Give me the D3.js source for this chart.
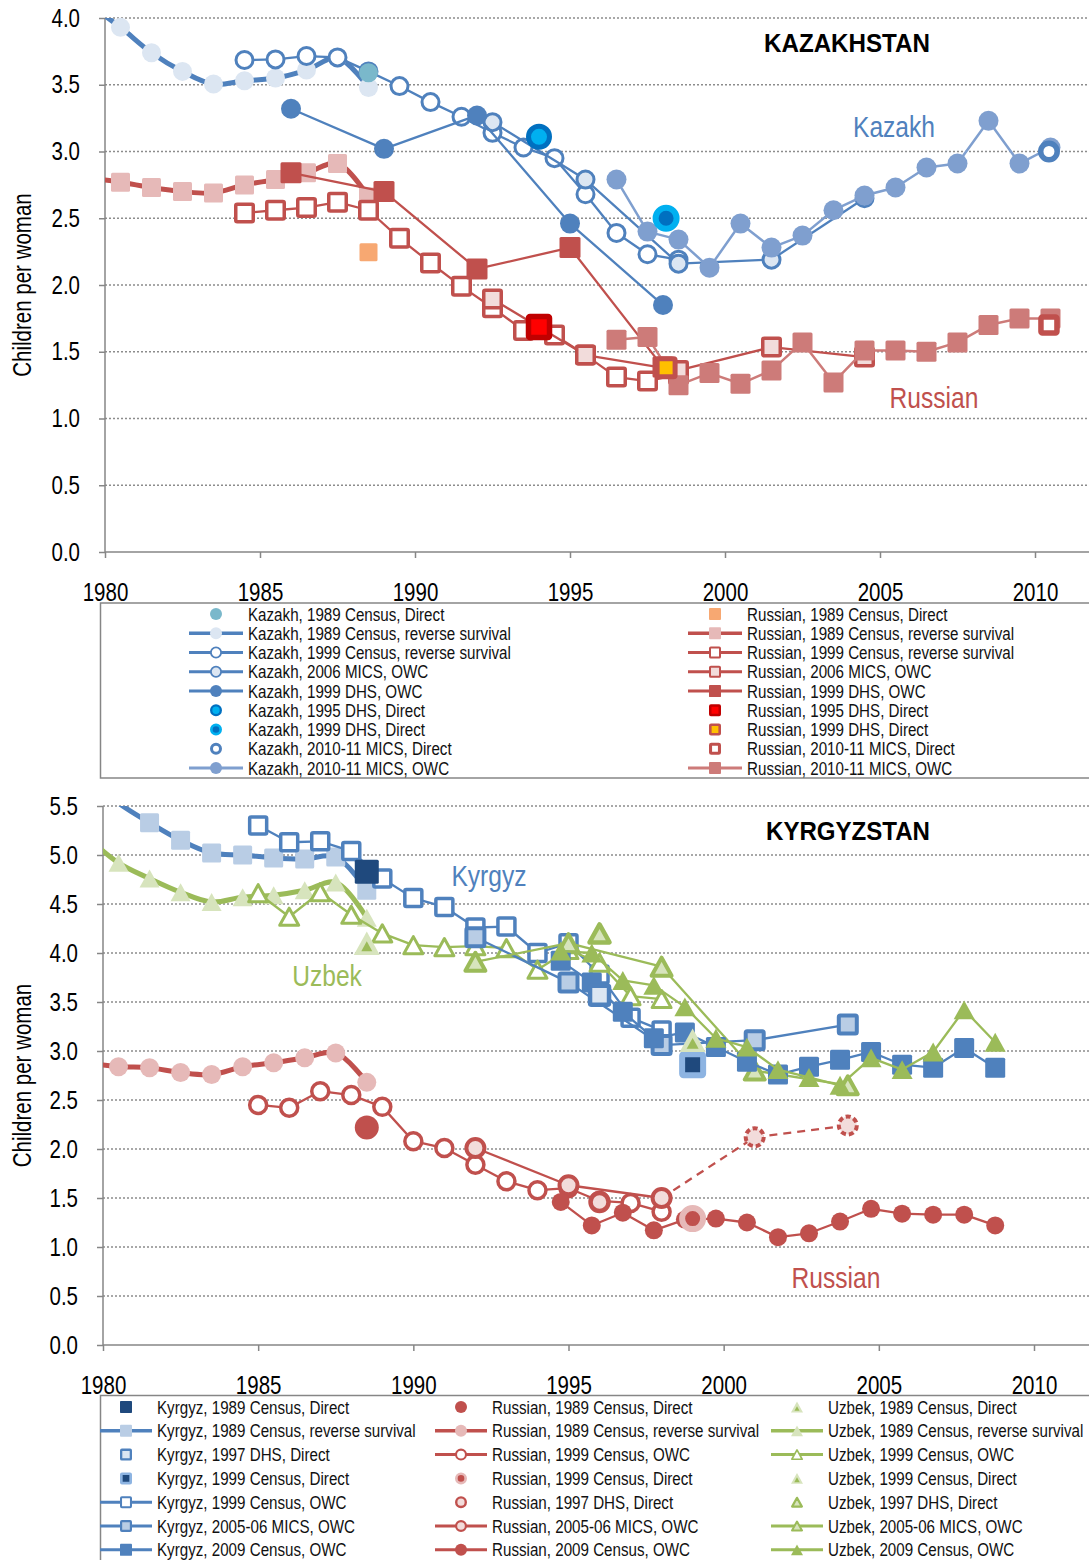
<!DOCTYPE html>
<html><head><meta charset="utf-8">
<script src="https://cdn.jsdelivr.net/npm/d3@7"></script>
<style>
body{margin:0;background:#fff;}
svg{display:block;}
text{font-family:"Liberation Sans",Arial,sans-serif;}
</style></head><body>
<svg id="c" width="1089" height="1560"></svg>
<script>
// ===== Kazakhstan: Kazakh women (year, children per woman) =====
const kzKazCensus89Direct = [[1988.5,3.59]];
const kzKazCensus89Rs = [[1979.5,4.10],[1980.5,3.93],[1981.5,3.74],[1982.5,3.60],[1983.5,3.505],[1984.5,3.53],[1985.5,3.55],[1986.5,3.61],[1987.5,3.70],[1988.5,3.48]];
const kzKazCensus99Rs = [[1984.5,3.685],[1985.5,3.69],[1986.5,3.715],[1987.5,3.705],[1988.5,3.60],[1989.5,3.49],[1990.5,3.37],[1991.5,3.26],[1992.5,3.14],[1993.5,3.03],[1994.5,2.95],[1995.5,2.68],[1996.5,2.39],[1997.5,2.23],[1998.5,2.19]];
const kzKazMics06Owc = [[1992.5,3.22],[1995.5,2.79],[1998.5,2.16],[2001.5,2.19],[2004.5,2.65]];
const kzKazDhs99Owc = [[1986,3.32],[1989,3.02],[1992,3.27],[1995,2.46],[1998,1.85]];
const kzKazDhs95Direct = [[1994,3.11]];
const kzKazDhs99Direct = [[1998.1,2.50]];
const kzKazMics10Direct = [[2010.45,3.00]];
const kzKazMics10Owc = [[1996.5,2.79],[1997.5,2.40],[1998.5,2.34],[1999.5,2.13],[2000.5,2.46],[2001.5,2.28],[2002.5,2.37],[2003.5,2.56],[2004.5,2.67],[2005.5,2.73],[2006.5,2.88],[2007.5,2.91],[2008.5,3.23],[2009.5,2.91],[2010.5,3.03]];

// ===== Kazakhstan: Russian women =====
const kzRusCensus89Direct = [[1988.5,2.245]];
const kzRusCensus89Rs = [[1979.5,2.80],[1980.5,2.77],[1981.5,2.73],[1982.5,2.70],[1983.5,2.69],[1984.5,2.75],[1985.5,2.79],[1986.5,2.84],[1987.5,2.91],[1988.5,2.66]];
const kzRusCensus99Rs = [[1984.5,2.54],[1985.5,2.56],[1986.5,2.58],[1987.5,2.62],[1988.5,2.56],[1989.5,2.35],[1990.5,2.165],[1991.5,1.99],[1992.5,1.83],[1993.5,1.66],[1994.5,1.625],[1995.5,1.475],[1996.5,1.31],[1997.5,1.28],[1998.5,1.33]];
const kzRusMics06Owc = [[1992.5,1.895],[1995.5,1.475],[1998.5,1.36],[2001.5,1.535],[2004.5,1.46]];
const kzRusDhs99Owc = [[1986,2.84],[1989,2.70],[1992,2.12],[1995,2.28],[1998,1.385]];
const kzRusDhs95Direct = [[1994,1.685]];
const kzRusDhs99Direct = [[1998.1,1.38]];
const kzRusMics10Direct = [[2010.45,1.70]];
const kzRusMics10Owc = [[1996.5,1.59],[1997.5,1.61],[1998.5,1.25],[1999.5,1.34],[2000.5,1.26],[2001.5,1.36],[2002.5,1.57],[2003.5,1.27],[2004.5,1.51],[2005.5,1.51],[2006.5,1.50],[2007.5,1.57],[2008.5,1.70],[2009.5,1.75],[2010.5,1.75]];

// ===== Kyrgyzstan: Kyrgyz women =====
const kgKyrCensus89Direct = [[1988.5,4.83]];
const kgKyrCensus89Rs = [[1979.5,5.80],[1980.5,5.53],[1981.5,5.33],[1982.5,5.15],[1983.5,5.02],[1984.5,5.00],[1985.5,4.97],[1986.5,4.96],[1987.5,4.98],[1988.5,4.64]];
const kgKyrDhs97Direct = [[1996,3.57]];
const kgKyrCensus99Direct = [[1999,2.86]];
const kgKyrCensus99Owc = [[1985,5.30],[1986,5.13],[1987,5.14],[1988,5.04],[1989,4.76],[1990,4.56],[1991,4.47],[1992,4.26],[1993,4.27],[1994,4.00],[1995,4.10],[1996,3.78],[1997,3.34],[1998,3.21]];
const kgKyrMics05Owc = [[1992,4.16],[1995,3.70],[1998,3.06],[2001,3.11],[2004,3.27]];
const kgKyrCensus09Owc = [[1994.75,3.92],[1995.75,3.70],[1996.75,3.40],[1997.75,3.13],[1998.75,3.19],[1999.75,3.04],[2000.75,2.89],[2001.75,2.76],[2002.75,2.84],[2003.75,2.91],[2004.75,2.99],[2005.75,2.86],[2006.75,2.83],[2007.75,3.03],[2008.75,2.83]];

// ===== Kyrgyzstan: Russian women =====
const kgRusCensus89Direct = [[1988.5,2.22]];
const kgRusCensus89Rs = [[1979.5,2.88],[1980.5,2.84],[1981.5,2.83],[1982.5,2.78],[1983.5,2.76],[1984.5,2.84],[1985.5,2.88],[1986.5,2.93],[1987.5,2.98],[1988.5,2.68]];
const kgRusCensus99Owc = [[1985,2.45],[1986,2.42],[1987,2.59],[1988,2.55],[1989,2.43],[1990,2.08],[1991,2.01],[1992,1.84],[1993,1.67],[1994,1.58],[1995,1.60],[1996,1.47],[1997,1.45],[1998,1.36]];
const kgRusCensus99Direct = [[1999,1.29]];
const kgRusDhs97Direct = [[1996,1.46]];
const kgRusMics05Owc = [[1992,2.01],[1995,1.63],[1998,1.50],[2001,2.12],[2004,2.24]];
const kgRusCensus09Owc = [[1994.75,1.46],[1995.75,1.22],[1996.75,1.35],[1997.75,1.17],[1998.75,1.28],[1999.75,1.29],[2000.75,1.25],[2001.75,1.10],[2002.75,1.14],[2003.75,1.26],[2004.75,1.39],[2005.75,1.34],[2006.75,1.33],[2007.75,1.33],[2008.75,1.22]];

// ===== Kyrgyzstan: Uzbek women =====
const kgUzbCensus89Direct = [[1988.5,4.10]];
const kgUzbCensus89Rs = [[1979.5,5.18],[1980.5,4.92],[1981.5,4.76],[1982.5,4.62],[1983.5,4.52],[1984.5,4.57],[1985.5,4.59],[1986.5,4.64],[1987.5,4.72],[1988.5,4.36]];
const kgUzbCensus99Owc = [[1985,4.61],[1986,4.37],[1987,4.62],[1988,4.39],[1989,4.20],[1990,4.08],[1991,4.06],[1992,4.07],[1993,4.05],[1994,3.83],[1995,4.03],[1996,3.90],[1997,3.56],[1998,3.53]];
const kgUzbCensus99Direct = [[1999,3.11]];
const kgUzbDhs97Direct = [[1996,4.20]];
const kgUzbMics05Owc = [[1992,3.91],[1995,4.10],[1998,3.86],[2001,2.80],[2004,2.65]];
const kgUzbCensus09Owc = [[1994.75,4.02],[1995.75,4.00],[1996.75,3.72],[1997.75,3.67],[1998.75,3.45],[1999.75,3.13],[2000.75,3.04],[2001.75,2.81],[2002.75,2.73],[2003.75,2.65],[2004.75,2.93],[2005.75,2.81],[2006.75,2.99],[2007.75,3.42],[2008.75,3.09]];

// axis ticks
const yearTicks = [1980,1985,1990,1995,2000,2005,2010];

// ---------- palette ----------
const BLUE='#4f81bd', BLUE_L='#dce6f2', BLUE_M='#b9cde5', BLUE_OWC='#7f9fcf', NAVY='#1f497d';
const RED='#c0504d', RED_L='#e6b9b8', RED_XL='#f2dcdb', RED_OWC='#cd7b79';
const GREEN='#9bbb59', GREEN_L='#d7e4bd';
const NARROW = 0.82;   // horizontal squeeze giving a condensed face

const svg = d3.select('#c');

// place a text at (x,y) with condensed glyphs
function narrowAt(t, x, y, extra=''){
  t.attr('x',0).attr('y',0).attr('transform',`translate(${x},${y}) ${extra} scale(${NARROW},1)`);
  return t;
}

function triPath(w){ const h=w*0.9; return `M0,${-h/2}L${w/2},${h/2}L${-w/2},${h/2}Z`; }

function marker(g, m, x, y, k=1){
  const s=m.size*k, sw=(m.sw||0)*k;
  let el;
  if(m.shape==='circle') el=g.append('circle').attr('cx',x).attr('cy',y).attr('r',s/2);
  else if(m.shape==='square') el=g.append('rect').attr('x',x-s/2).attr('y',y-s/2).attr('width',s).attr('height',s).attr('rx',1.5*k);
  else el=g.append('path').attr('transform',`translate(${x},${y})`).attr('d',triPath(s));
  el.attr('fill',m.fill).attr('stroke',m.stroke||'none').attr('stroke-width',sw).attr('stroke-linejoin','round');
  if(m.dash) el.attr('stroke-dasharray',m.dash);
  if(m.inner){
    const dy = m.shape==='triangle' ? s*0.12 : 0;
    marker(g,{shape:m.shape,size:m.inner.size,fill:m.inner.fill},x,y+dy,k);
  }
}

const thin = c => ({color:c,width:2.3});
const thick = c => ({color:c,width:5,smooth:true});

// ---------- series: Kazakhstan ----------
const topSeries = [
  {data:kzKazCensus89Rs, line:thick(BLUE), mk:{shape:'circle',size:19,fill:BLUE_L}, lg:[0,1], label:'Kazakh, 1989 Census, reverse survival'},
  {data:kzKazCensus99Rs, line:thin(BLUE), mk:{shape:'circle',size:17,fill:'#fff',stroke:BLUE,sw:3}, lg:[0,2], label:'Kazakh, 1999 Census, reverse survival'},
  {data:kzKazMics06Owc, line:thin(BLUE), mk:{shape:'circle',size:17,fill:BLUE_L,stroke:BLUE,sw:3}, lg:[0,3], label:'Kazakh, 2006 MICS, OWC'},
  {data:kzKazDhs99Owc, line:thin(BLUE), mk:{shape:'circle',size:20,fill:BLUE}, lg:[0,4], label:'Kazakh, 1999 DHS, OWC'},
  {data:kzKazMics10Owc, line:{color:BLUE_OWC,width:2.5}, mk:{shape:'circle',size:20,fill:BLUE_OWC}, lg:[0,8], label:'Kazakh, 2010-11 MICS, OWC'},
  {data:kzRusCensus89Rs, line:thick(RED), mk:{shape:'square',size:19,fill:RED_L}, lg:[1,1], label:'Russian, 1989 Census, reverse survival'},
  {data:kzRusCensus99Rs, line:thin(RED), mk:{shape:'square',size:17.5,fill:'#fff',stroke:RED,sw:3.5}, lg:[1,2], label:'Russian, 1999 Census, reverse survival'},
  {data:kzRusMics06Owc, line:thin(RED), mk:{shape:'square',size:17.5,fill:RED_XL,stroke:RED,sw:3.5}, lg:[1,3], label:'Russian, 2006 MICS, OWC'},
  {data:kzRusDhs99Owc, line:thin(RED), mk:{shape:'square',size:21,fill:RED}, lg:[1,4], label:'Russian, 1999 DHS, OWC'},
  {data:kzRusMics10Owc, line:{color:RED_OWC,width:2.5}, mk:{shape:'square',size:20,fill:RED_OWC}, lg:[1,8], label:'Russian, 2010-11 MICS, OWC'},
  {data:kzKazCensus89Direct, mk:{shape:'circle',size:19,fill:'#7ab8cb'}, lg:[0,0], label:'Kazakh, 1989 Census, Direct'},
  {data:kzRusCensus89Direct, mk:{shape:'square',size:18,fill:'#f7a872'}, lg:[1,0], label:'Russian, 1989 Census, Direct'},
  {data:kzKazDhs95Direct, mk:{shape:'circle',size:21,fill:'#00b0f0',stroke:'#0070c0',sw:5}, lg:[0,5], label:'Kazakh, 1995 DHS, Direct'},
  {data:kzKazDhs99Direct, mk:{shape:'circle',size:21,fill:'#0070c0',stroke:'#00b0f0',sw:6}, lg:[0,6], label:'Kazakh, 1999 DHS, Direct'},
  {data:kzRusDhs95Direct, mk:{shape:'square',size:21,fill:'#ff0000',stroke:'#c00000',sw:5.5}, lg:[1,5], label:'Russian, 1995 DHS, Direct'},
  {data:kzRusDhs99Direct, mk:{shape:'square',size:18,fill:'#ffc000',stroke:RED,sw:5}, lg:[1,6], label:'Russian, 1999 DHS, Direct'},
  {data:kzKazMics10Direct, mk:{shape:'circle',size:16.5,fill:'#fff',stroke:BLUE,sw:5.5}, lg:[0,7], label:'Kazakh, 2010-11 MICS, Direct'},
  {data:kzRusMics10Direct, mk:{shape:'square',size:16,fill:'#fff',stroke:RED,sw:5.5}, lg:[1,7], label:'Russian, 2010-11 MICS, Direct'}
];

// ---------- series: Kyrgyzstan ----------
const botSeries = [
  {data:kgKyrCensus89Rs, line:thick(BLUE), mk:{shape:'square',size:19,fill:BLUE_M}, lg:[0,1], label:'Kyrgyz, 1989 Census, reverse survival'},
  {data:kgUzbCensus89Rs, line:thick(GREEN), mk:{shape:'triangle',size:20,fill:GREEN_L}, lg:[2,1], label:'Uzbek, 1989 Census, reverse survival'},
  {data:kgRusCensus89Rs, line:thick(RED), mk:{shape:'circle',size:19,fill:RED_L}, lg:[1,1], label:'Russian, 1989 Census, reverse survival'},
  {data:kgKyrCensus99Owc, line:thin(BLUE), mk:{shape:'square',size:17,fill:'#fff',stroke:BLUE,sw:3.5}, lg:[0,4], label:'Kyrgyz, 1999 Census, OWC'},
  {data:kgRusCensus99Owc, line:thin(RED), mk:{shape:'circle',size:17,fill:'#fff',stroke:RED,sw:3.5}, lg:[1,2], label:'Russian, 1999 Census, OWC'},
  {data:kgUzbCensus99Owc, line:thin(GREEN), mk:{shape:'triangle',size:19,fill:'#fff',stroke:GREEN,sw:3}, lg:[2,2], label:'Uzbek, 1999 Census, OWC'},
  {data:kgKyrMics05Owc, line:thin(BLUE), mk:{shape:'square',size:18,fill:BLUE_M,stroke:BLUE,sw:4}, lg:[0,5], label:'Kyrgyz, 2005-06 MICS, OWC'},
  {data:kgRusMics05Owc, line:thin(RED), dashFrom:3, mk:{shape:'circle',size:18,fill:RED_XL,stroke:RED,sw:4}, lg:[1,5], label:'Russian, 2005-06 MICS, OWC'},
  {data:kgUzbMics05Owc, line:thin(GREEN), mk:{shape:'triangle',size:20,fill:GREEN_L,stroke:GREEN,sw:4}, lg:[2,5], label:'Uzbek, 2005-06 MICS, OWC'},
  {data:kgKyrCensus09Owc, line:thin(BLUE), mk:{shape:'square',size:20,fill:BLUE}, lg:[0,6], label:'Kyrgyz, 2009 Census, OWC'},
  {data:kgRusCensus09Owc, line:thin(RED), mk:{shape:'circle',size:18,fill:RED}, lg:[1,6], label:'Russian, 2009 Census, OWC'},
  {data:kgUzbCensus09Owc, line:thin(GREEN), mk:{shape:'triangle',size:21,fill:GREEN}, lg:[2,6], label:'Uzbek, 2009 Census, OWC'},
  {data:kgKyrCensus89Direct, mk:{shape:'square',size:24,fill:NAVY}, lg:[0,0], label:'Kyrgyz, 1989 Census, Direct'},
  {data:kgRusCensus89Direct, mk:{shape:'circle',size:24,fill:RED}, lg:[1,0], label:'Russian, 1989 Census, Direct'},
  {data:kgUzbCensus89Direct, mk:{shape:'triangle',size:26,fill:GREEN_L,inner:{size:11,fill:GREEN}}, lg:[2,0], label:'Uzbek, 1989 Census, Direct'},
  {data:kgKyrDhs97Direct, mk:{shape:'square',size:19,fill:BLUE_L,stroke:BLUE,sw:4.5}, lg:[0,2], label:'Kyrgyz, 1997 DHS, Direct'},
  {data:kgRusDhs97Direct, mk:{shape:'circle',size:18,fill:RED_XL,stroke:RED,sw:4.5}, lg:[1,4], label:'Russian, 1997 DHS, Direct'},
  {data:kgUzbDhs97Direct, mk:{shape:'triangle',size:20,fill:GREEN_L,stroke:GREEN,sw:4.5}, lg:[2,4], label:'Uzbek, 1997 DHS, Direct'},
  {data:kgKyrCensus99Direct, mk:{shape:'square',size:21,fill:NAVY,stroke:'#8db4e2',sw:6}, lg:[0,3], label:'Kyrgyz, 1999 Census, Direct'},
  {data:kgRusCensus99Direct, mk:{shape:'circle',size:21,fill:RED,stroke:RED_L,sw:6}, lg:[1,3], label:'Russian, 1999 Census, Direct'},
  {data:kgUzbCensus99Direct, mk:{shape:'triangle',size:26,fill:GREEN_L,inner:{size:12,fill:GREEN}}, lg:[2,3], label:'Uzbek, 1999 Census, Direct'}
];

function chart(o){
  const g = svg.append('g');
  const x = d3.scaleLinear().domain([1980,2010]).range(o.xr);
  const y = d3.scaleLinear().domain([0,o.ymax]).range(o.yr);
  const X0=o.xr[0], XE=1089, Y0=o.yr[0], Y1=o.yr[1];
  const clipId = o.id+'clip';
  svg.append('clipPath').attr('id',clipId).append('rect')
    .attr('x',X0).attr('y',Y1).attr('width',XE-X0).attr('height',Y0-Y1);

  // dotted gridlines
  g.append('g').selectAll('line').data(d3.range(0.5,o.ymax+0.01,0.5)).join('line')
    .attr('x1',X0).attr('x2',XE).attr('y1',d=>y(d)).attr('y2',d=>y(d))
    .attr('stroke','#8c8c8c').attr('stroke-width',1.5).attr('stroke-dasharray','2,2');

  // axes
  const ya = g.append('g').attr('transform',`translate(${X0},0)`)
    .call(d3.axisLeft(y).tickValues(d3.range(0,o.ymax+0.01,0.5)).tickFormat(d3.format('.1f')).tickSize(6).tickPadding(19).tickSizeOuter(0));
  const xa = g.append('g').attr('transform',`translate(0,${Y0})`)
    .call(d3.axisBottom(x).tickValues(yearTicks).tickFormat(d3.format('d')).tickSize(6).tickPadding(25).tickSizeOuter(0));
  [ya,xa].forEach(a=>{
    a.select('.domain').remove();
    a.selectAll('line').attr('stroke','#868686').attr('stroke-width',1.5);
    a.selectAll('text').attr('font-size',25).attr('fill','#000').style('font-family','"Liberation Sans",Arial,sans-serif')
      .each(function(){
        const t=d3.select(this);
        narrowAt(t, +t.attr('x')||0, +t.attr('y')||0);
      });
  });
  g.append('line').attr('x1',X0).attr('x2',X0).attr('y1',Y1).attr('y2',Y0).attr('stroke','#868686').attr('stroke-width',1.5);
  g.append('line').attr('x1',X0).attr('x2',XE).attr('y1',Y0).attr('y2',Y0).attr('stroke','#868686').attr('stroke-width',1.5);

  // y title
  narrowAt(g.append('text').attr('text-anchor','middle').attr('dy','0.35em').attr('font-size',25).attr('fill','#000').text('Children per woman'),
    o.titleX, (Y0+Y1)/2, 'rotate(-90)');

  // series
  o.series.forEach(s=>{
    const pts=s.data;
    if(s.line){
      const line=d3.line().x(d=>x(d[0])).y(d=>y(d[1]))
        .curve(s.line.smooth?d3.curveCatmullRom.alpha(0.5):d3.curveLinear);
      const parts = s.dashFrom ? [[pts.slice(0,s.dashFrom),null],[pts.slice(s.dashFrom-1),'8,6']] : [[pts,null]];
      parts.forEach(([p,dash])=>{
        g.append('path').attr('d',line(p)).attr('fill','none')
          .attr('stroke',s.line.color).attr('stroke-width',s.line.width)
          .attr('stroke-linejoin','round').attr('stroke-dasharray',dash)
          .attr('clip-path',`url(#${clipId})`);
      });
    }
    pts.forEach((d,i)=>{
      if(d[0]<1980 || d[1]>o.ymax) return;
      const m=(s.dashFrom && i>=s.dashFrom)?Object.assign({},s.mk,{dash:'5,3'}):s.mk;
      marker(g,m,x(d[0]),y(d[1]));
    });
  });

  // annotations
  o.notes.forEach(n=>{
    const t=g.append('text').attr('text-anchor','middle')
      .attr('font-size',n.size).attr('fill',n.color).attr('font-weight',n.bold?'bold':null).text(n.text);
    if(n.len) t.attr('x',n.x).attr('y',n.y).attr('textLength',n.len).attr('lengthAdjust','spacingAndGlyphs');
    else narrowAt(t, n.x, n.y);
  });

  // legend
  const L=o.legend;
  svg.append('rect').attr('x',100.5).attr('y',L.boxY).attr('width',995).attr('height',L.boxH)
    .attr('fill','none').attr('stroke','#868686').attr('stroke-width',1.5);
  o.series.forEach(s=>{
    const cx=L.cols[s.lg[0]], cy=L.row0+s.lg[1]*L.dy;
    const lg=svg.append('g');
    if(s.line) lg.append('line').attr('x1',cx-L.half).attr('x2',cx+L.half).attr('y1',cy).attr('y2',cy)
      .attr('stroke',s.line.color).attr('stroke-width',s.line.smooth?3.5:3);
    const k = 12/(s.mk.size+(s.mk.sw||0));
    marker(lg,s.mk,cx,cy,k);
    narrowAt(lg.append('text').attr('dy','0.36em').attr('font-size',18.5).attr('fill','#111').text(s.label),
      cx+L.tx, cy);
  });
}

chart({
  id:'kz', xr:[105,1035], yr:[552,18], ymax:4, titleX:22, series:topSeries,
  notes:[
    {text:'KAZAKHSTAN',x:847,y:52,size:26,color:'#000',bold:true,len:166},
    {text:'Kazakh',x:894,y:137,size:30,color:BLUE},
    {text:'Russian',x:934,y:408,size:30,color:RED}
  ],
  legend:{boxY:603,boxH:175,cols:[216,715],row0:614,dy:19.25,half:27,tx:32}
});

chart({
  id:'kg', xr:[103,1034], yr:[1345,806], ymax:5.5, titleX:22, series:botSeries,
  notes:[
    {text:'KYRGYZSTAN',x:848,y:840,size:26,color:'#000',bold:true,len:164},
    {text:'Kyrgyz',x:489,y:886,size:30,color:BLUE},
    {text:'Uzbek',x:327,y:986,size:30,color:GREEN},
    {text:'Russian',x:836,y:1288,size:30,color:RED}
  ],
  legend:{boxY:1395.5,boxH:200,cols:[126,461,797],row0:1407,dy:23.8,half:26,tx:31}
});
</script>
</body></html>
